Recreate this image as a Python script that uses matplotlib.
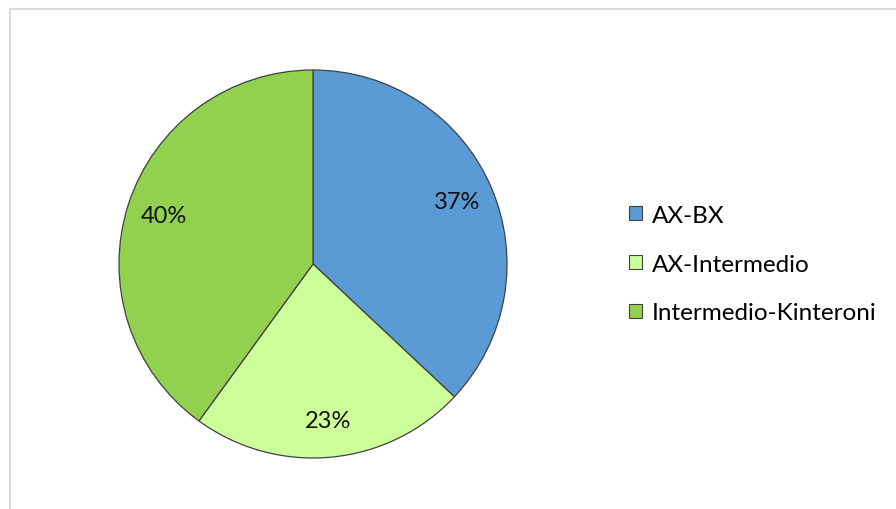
import matplotlib
matplotlib.use("Agg")
import matplotlib.pyplot as plt
from matplotlib.patches import Rectangle

# slice data
labels = ["AX-BX", "AX-Intermedio", "Intermedio-Kinteroni"]
values = [37, 23, 40]
colors = ["#5B9BD5", "#CCFF99", "#92D050"]

plt.rcParams['font.family'] = ['Lato', 'DejaVu Sans']

W, H = 896, 510
fig = plt.figure(figsize=(W / 100, H / 100), dpi=100)

# light frame around the chart area
fig.patches.append(Rectangle((10 / W, -0.01), 1.0, 1 - 10 / H + 0.01,
                             transform=fig.transFigure, fill=False,
                             edgecolor="#d9d9d9", linewidth=1.5))

# pie axes: centre (313, 265), radius 194 px
cx, cy, r = 313, 265, 194
ax = fig.add_axes([(cx - r) / W, (H - cy - r) / H, 2 * r / W, 2 * r / H])
wedges, texts, autotexts = ax.pie(
    values, colors=colors, startangle=90, counterclock=False,
    autopct="%d%%", pctdistance=0.81, radius=1,
    wedgeprops=dict(edgecolor="#404040", linewidth=0.9),
    textprops=dict(fontsize=17, color="#111111"))
ax.set_xlim(-1, 1)
ax.set_ylim(-1, 1)
ax.set_aspect("auto")
ax.axis("off")

leg = fig.legend(wedges, labels, loc="center left",
                 bbox_to_anchor=(629 / W, 1 - 265 / H), frameon=False,
                 fontsize=17.5, handlelength=0.55, handleheight=0.55,
                 handletextpad=0.4, labelspacing=1.15, borderpad=0,
                 borderaxespad=0)
for h in leg.legend_handles:
    h.set_edgecolor("#404040")
    h.set_linewidth(0.8)

fig.savefig("out.png", dpi=100)
